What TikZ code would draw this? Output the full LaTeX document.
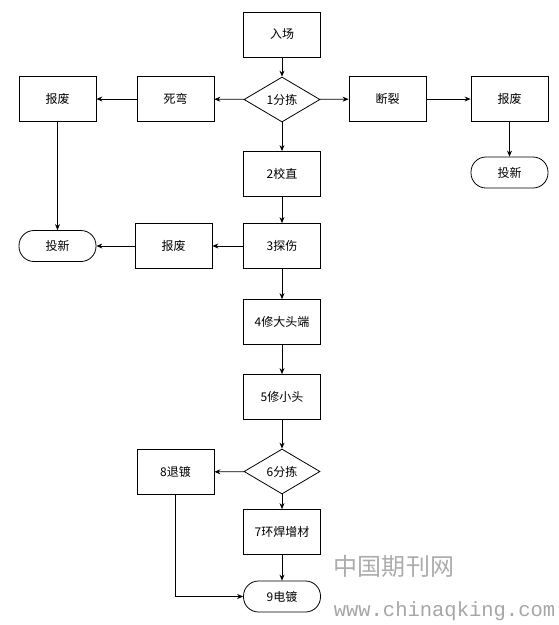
\documentclass[tikz,border=0pt]{standalone}
\usepackage{fontspec}
\setmainfont{Noto Sans CJK SC}
\newfontfamily\wmmono{Liberation Mono}
\usetikzlibrary{arrows.meta,shapes.geometric}

\begin{document}
\begin{tikzpicture}[x=1pt,y=-1pt,font=\fontsize{12}{14}\selectfont,line width=0.8pt,
  box/.style={draw,align=center,inner sep=2pt,minimum height=45pt,minimum width=77pt},
  pick/.style={draw,diamond,aspect=1.7,inner sep=0pt,minimum height=45pt,minimum width=76pt},
  term/.style={draw,rounded corners=15pt,align=center,inner sep=2pt,minimum height=31pt,minimum width=77pt},
  flow/.style={-{Stealth[length=6pt,width=5pt]}}]
  \useasboundingbox (0,0) rectangle (559,625);
  % main column
  \node[box] (in) at (282,34.5) {入场};
  \node[pick] (s1) at (282,99.5) {1分拣};
  \node[box] (s2) at (282,174) {2校直};
  \node[box] (s3) at (282,246) {3探伤};
  \node[box] (s4) at (282,322) {4修大头端};
  \node[box] (s5) at (282,397) {5修小头};
  \node[pick] (s6) at (282,471.5) {6分拣};
  \node[box] (s7) at (282,532) {7环焊增材};
  \node[term] (s9) at (282,596.5) {9电镀};
  % side branches
  \node[box] (bend) at (175.5,99) {死弯};
  \node[box] (scrapA) at (57.5,99) {报废};
  \node[term] (newA) at (57.5,246) {投新};
  \node[box] (scrapB) at (173.5,246) {报废};
  \node[box] (crack) at (387.5,99) {断裂};
  \node[box] (scrapC) at (509.5,99) {报废};
  \node[term] (newC) at (509.5,172.5) {投新};
  \node[box] (s8) at (175.5,472) {8退镀};
  % watermark
  \node[text=gray!65,font=\fontsize{24}{26}\selectfont\addfontfeature{LetterSpace=2}] (wm1) at (394,566) {中国期刊网};
  \node[text=gray!70,font=\wmmono\fontsize{20.5}{24}\selectfont,inner sep=0pt] (wm2) at (444.5,611) {www.chinaqking.com};

  \draw[flow] (in) -- (s1);
  \draw[flow] (s1) -- (s2);
  \draw[flow] (s2) -- (s3);
  \draw[flow] (s3) -- (s4);
  \draw[flow] (s4) -- (s5);
  \draw[flow] (s5) -- (s6);
  \draw[flow] (s6) -- (s7);
  \draw[flow] (s7) -- (s9);
  \draw[flow] (s1) -- (bend);
  \draw[flow] (bend) -- (scrapA);
  \draw[flow] (scrapA) -- (newA);
  \draw[flow] (s3) -- (scrapB);
  \draw[flow] (scrapB) -- (newA);
  \draw[flow] (s1) -- (crack);
  \draw[flow] (crack) -- (scrapC);
  \draw[flow] (scrapC) -- (newC);
  \draw[flow] (s6) -- (s8);
  \draw[flow] (s8) |- (s9);
\end{tikzpicture}
\end{document}
